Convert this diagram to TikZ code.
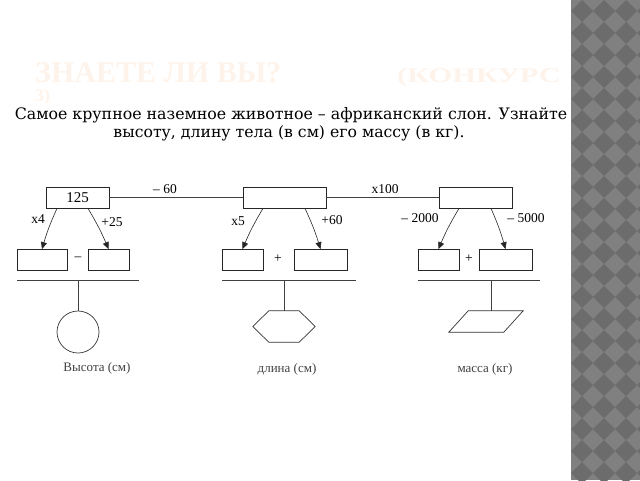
\documentclass[tikz,border=0pt]{standalone}
\usepackage{fontspec}
\usepackage{graphicx}
\setmainfont{Liberation Serif}
\newfontfamily\bodyserif{DejaVu Serif}
\usetikzlibrary{arrows.meta}
\definecolor{titlepeach}{RGB}{254,243,234}
\definecolor{stripl}{RGB}{128,128,128}
\definecolor{stripd}{RGB}{108,108,108}
\tikzset{
  box/.style={draw=black!85, line width=0.8pt, minimum height=21pt, inner sep=0pt,
    font=\fontsize{15}{15}\selectfont},
  arr/.style={-{Triangle[length=7pt,width=6pt]}, line width=0.6pt, draw=black!85},
  lbl/.style={inner sep=0pt, font=\fontsize{13.5}{13.5}\selectfont},
  under/.style={inner sep=0pt, text=black!75, font=\fontsize{13}{13}\selectfont},
  bar/.style={line width=0.7pt, draw=black!75}
}
\begin{document}
\begin{tikzpicture}[x=1pt,y=-1pt]
  \useasboundingbox (0,0) rectangle (640,480);
  % side strip
  \fill[stripl] (571,0) rectangle (640,480);
  \begin{scope}
    \clip (571,0) rectangle (640,480);
    \foreach \i in {0,...,3}
      \foreach \j in {0,...,22}
        \fill[stripd] (582+22*\i,22*\j) -- ++(11,11) -- ++(-11,11) -- ++(-11,-11) -- cycle;
  \end{scope}
  % title and question
  \node[anchor=base west, inner sep=0pt, text=titlepeach, font=\fontsize{30}{30}\selectfont\bfseries]
    (title) at (35,82) {ЗНАЕТЕ ЛИ ВЫ?};
  \node[anchor=base west, inner sep=0pt, text=titlepeach, font=\fontsize{21}{21}\selectfont\bfseries]
    (title2) at (397,82) {\scalebox{1.45}[1]{(КОНКУРС}};
  \node[anchor=base west, inner sep=0pt, text=titlepeach, font=\fontsize{18}{18}\selectfont\bfseries]
    (title3) at (35,101) {3)};
  \node[inner sep=0pt, font=\bodyserif\fontsize{15.8}{15.8}\selectfont] (q1) at (291,115)
    {Самое крупное наземное животное – африканский слон. Узнайте};
  \node[inner sep=0pt, font=\bodyserif\fontsize{15.7}{15.7}\selectfont] (q2) at (289,133)
    {высоту, длину тела (в см) его массу (в кг).};
  % boxes
  \node[box, minimum width=63pt] (t1) at (77.5,197.5) {125};
  \node[box, minimum width=83pt] (t2) at (284.5,197.5) {};
  \node[box, minimum width=73pt] (t3) at (475.5,197.5) {};
  \node[box, minimum width=50pt] (b1) at (42,260) {};
  \node[box, minimum width=41pt] (b2) at (108.5,260) {};
  \node[box, minimum width=41pt] (b3) at (242.5,260) {};
  \node[box, minimum width=53pt] (b4) at (320.5,260) {};
  \node[box, minimum width=41pt] (b5) at (438.5,260) {};
  \node[box, minimum width=53pt] (b6) at (505.5,260) {};
  \node[lbl] (op1) at (78,259) {–};
  \node[lbl] (op2) at (278,259) {+};
  \node[lbl] (op3) at (469,259) {+};
  % links
  \draw[bar] (t1) -- (t2);
  \draw[bar] (t2) -- (t3);
  \node[lbl] (minus60) at (165,189) {– 60};
  \node[lbl] (x100) at (385,189) {x100};
  \draw[arr] ([xshift=-20.5pt]t1.south) to[bend right=4] (b1.north);
  \draw[arr] ([xshift=10.5pt]t1.south) to[bend left=4] (b2.north);
  \draw[arr] ([xshift=-21.5pt]t2.south) to[bend right=4] (b3.north);
  \draw[arr] ([xshift=20.5pt]t2.south) to[bend left=4] (b4.north);
  \draw[arr] ([xshift=-16.5pt]t3.south) to[bend right=4] (b5.north);
  \draw[arr] ([xshift=15.5pt]t3.south) to[bend left=4] (b6.north);
  \node[lbl] (x4) at (38,219) {x4};
  \node[lbl] (plus25) at (112,222) {+25};
  \node[lbl] (x5) at (238,221) {x5};
  \node[lbl] (plus60) at (332,220) {+60};
  \node[lbl] (minus2000) at (420,218) {– 2000};
  \node[lbl] (minus5000) at (526,218) {– 5000};
  % bars
  \coordinate (l1) at (17,280);  \coordinate (r1) at (139,280); \coordinate (j1) at (78,280);
  \coordinate (l2) at (222,280); \coordinate (r2) at (356,280); \coordinate (j2) at (284,280);
  \coordinate (l3) at (418,280); \coordinate (r3) at (540,280); \coordinate (j3) at (491,280);
  \draw[bar] (l1) -- (r1);
  \draw[bar] (l2) -- (r2);
  \draw[bar] (l3) -- (r3);
  % shapes
  \node[draw=black!80, line width=0.7pt, circle, minimum size=42pt, inner sep=0pt] (hgt) at (78,332) {};
  \node[minimum width=62pt, minimum height=31pt, inner sep=0pt] (len) at (284,326.5) {};
  \node[minimum width=74pt, minimum height=21pt, inner sep=0pt] (mass) at (486,321.5) {};
  \draw[line width=0.7pt, draw=black!80] (len.west) -- ([xshift=16pt]len.north west)
    -- ([xshift=-16pt]len.north east) -- (len.east) -- ([xshift=-16pt]len.south east)
    -- ([xshift=16pt]len.south west) -- cycle;
  \draw[line width=0.7pt, draw=black!80] (mass.south west) -- ([xshift=55pt]mass.south west)
    -- (mass.north east) -- ([xshift=-55pt]mass.north east) -- cycle;
  \draw[bar] (j1) -- (hgt.north);
  \draw[bar] (j2) -- (len.north);
  \draw[bar] (j3) -- (j3 |- mass.north);
  \node[under] (hgtlbl) at (97,368) {Высота (см)};
  \node[under] (lenlbl) at (287,369) {длина (см)};
  \node[under] (masslbl) at (485,369) {масса (кг)};
\end{tikzpicture}
\end{document}
